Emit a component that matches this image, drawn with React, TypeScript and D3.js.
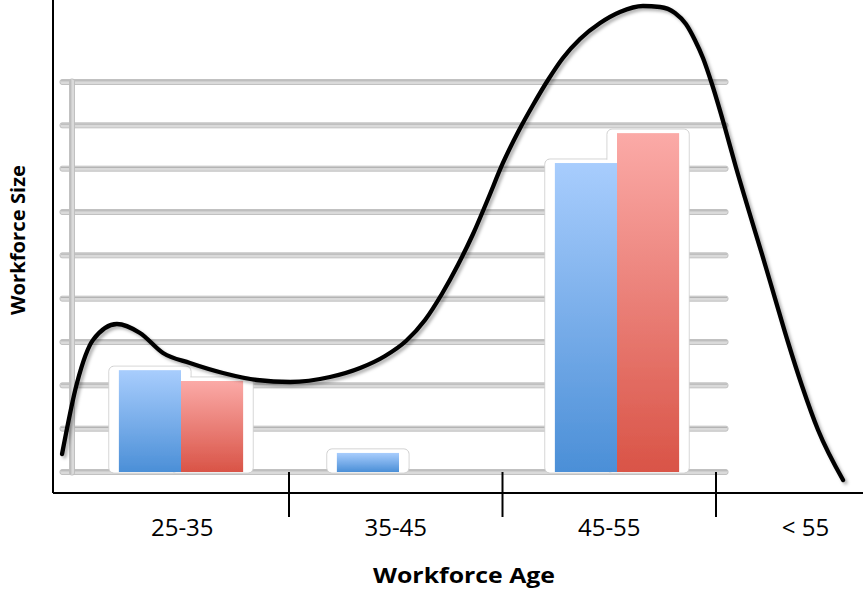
import React from "react";
import * as d3 from "d3";

// ---- data ----
const outerCategories = ["25-35", "35-45", "45-55", "< 55"];
const innerCategories = ["25-35", "35-45", "45-55"];
const seriesNames = ["blue", "red"];
const blueValues = [23.5, 4.4, 71.3];
const redValues = [21, 0, 78.2];
const yTicks = [0, 10, 20, 30, 40, 50, 60, 70, 80, 90];
// hand-drawn trend curve: x in category units, y in value units
const curveX = [-0.063, 0.007, 0.082, 0.194, 0.302, 0.41, 0.536, 0.691, 0.85, 1.005, 1.192, 1.333, 1.45, 1.548, 1.637, 1.716, 1.791, 1.862, 1.932, 2.002, 2.073, 2.143, 2.213, 2.283, 2.363, 2.457, 2.55, 2.658, 2.738, 2.808, 2.859, 2.901, 2.939, 2.981, 3.037, 3.093, 3.154, 3.215, 3.276, 3.337, 3.403, 3.478, 3.595];
const curveY = [4.15, 20.54, 30.46, 34.15, 32.08, 27.46, 25.15, 22.85, 21.23, 20.77, 21.92, 24.0, 26.77, 30.23, 35.08, 41.08, 47.77, 54.92, 63.0, 71.31, 78.46, 84.69, 90.46, 95.54, 99.92, 103.6, 106.15, 107.54, 107.31, 105.92, 103.38, 99.69, 95.54, 89.54, 80.31, 70.38, 60.23, 50.31, 40.15, 30.0, 19.85, 9.69, -1.85];
const xTitle = "Workforce Age";
const yTitle = "Workforce Size";

export default function App() {
  const W = 865, H = 590;
  const axL = 53, axB = 493, axR = 863;

  const outerX = d3.scaleBand<string>().domain(outerCategories).range([75.5, 929.5]);
  const curveScaleX = d3.scaleLinear().domain([0, 4]).range([75.5, 929.5]);
  const innerX = d3.scaleBand<string>().domain(innerCategories).range([72, 726]);
  const groupW = innerX.bandwidth() * 0.57;
  const sub = d3.scaleBand<string>().domain(seriesNames).range([0, groupW]);
  const y = d3.scaleLinear().domain([0, 90]).range([472, 82]);

  const bars: { x: number; w: number; top: number; s: string }[] = [];
  innerCategories.forEach((c, i) => {
    const g0 = (innerX(c) as number) + (innerX.bandwidth() - groupW) / 2;
    [blueValues[i], redValues[i]].forEach((v, j) => {
      if (v <= 0) return;
      bars.push({ x: g0 + (sub(seriesNames[j]) as number), w: sub.bandwidth(), top: y(v), s: seriesNames[j] });
    });
  });

  const line = d3
    .line<number>()
    .x((_, i) => curveScaleX(curveX[i]))
    .y((_, i) => y(curveY[i]))
    .curve(d3.curveMonotoneX);

  const tickBoundaries = outerCategories.slice(1).map((c) => outerX(c) as number);
  const labelX = (c: string) => {
    const x0 = outerX(c) as number;
    const x1 = Math.min(x0 + outerX.bandwidth(), axR + 32);
    return (x0 + x1) / 2;
  };

  const pad = 10;
  const font = "'Open Sans', 'Liberation Sans', sans-serif";

  return (
    <svg width={W} height={H} style={{ position: "absolute", left: 0, top: 0 }}>
      <defs>
        <linearGradient id="gBlue" x1="0" y1="0" x2="0" y2="1">
          <stop offset="0" stopColor="#a8cdfd" />
          <stop offset="1" stopColor="#4b8fd7" />
        </linearGradient>
        <linearGradient id="gRed" x1="0" y1="0" x2="0" y2="1">
          <stop offset="0" stopColor="#fbaaa7" />
          <stop offset="1" stopColor="#d95447" />
        </linearGradient>
        <filter id="shadow" x="-10%" y="-10%" width="120%" height="120%">
          <feDropShadow dx="2.5" dy="2.5" stdDeviation="1.6" floodColor="#000" floodOpacity="0.3" />
        </filter>
        <filter id="soft" x="-10%" y="-10%" width="120%" height="120%">
          <feGaussianBlur stdDeviation="0.6" />
        </filter>
      </defs>
      <rect width={W} height={H} fill="#fff" />

      {/* inner gridlines */}
      {yTicks.map((t) => (
        <g key={t}>
          <rect x={60} y={y(t) - 2.5} width={668} height={5} rx={2} fill="#dadada" stroke="#bcbcbc" strokeWidth={0.9} />
          <line x1={61} x2={727} y1={y(t) - 1.2} y2={y(t) - 1.2} stroke="#b2b2b2" strokeWidth={1} />
        </g>
      ))}
      {/* inner vertical axis */}
      <rect x={69.5} y={y(90) - 3} width={5} height={y(0) - y(90) + 6} rx={2} fill="#dadada" stroke="#bcbcbc" strokeWidth={0.9} />
      <line x1={70.8} x2={70.8} y1={y(90) - 2} y2={y(0) + 2} stroke="#b2b2b2" strokeWidth={1} />

      {/* bar halos: outline pass then fill pass */}
      {bars.map((b, i) => (
        <rect key={"hs" + i} x={b.x - pad} y={b.top - 4} width={b.w + 2 * pad} height={y(0) - b.top + 5} rx={5}
          fill="#fff" stroke="#cfcfcf" strokeWidth={1} />
      ))}
      {bars.map((b, i) => (
        <rect key={"hf" + i} x={b.x - pad + 0.7} y={b.top - 3.3} width={b.w + 2 * pad - 1.4} height={y(0) - b.top + 3.6} rx={4.5}
          fill="#fff" />
      ))}
      {/* bars */}
      {bars.map((b, i) => (
        <rect key={"b" + i} x={b.x} y={b.top} width={b.w} height={y(0) - b.top}
          fill={b.s === "blue" ? "url(#gBlue)" : "url(#gRed)"} filter="url(#soft)" />
      ))}

      {/* outer axes */}
      <line x1={axL} y1={0} x2={axL} y2={axB} stroke="#000" strokeWidth={2} />
      <line x1={axL} y1={axB} x2={axR} y2={axB} stroke="#000" strokeWidth={2} />
      {tickBoundaries.map((x, i) => (
        <line key={i} x1={x} y1={472} x2={x} y2={517} stroke="#000" strokeWidth={2} />
      ))}

      {/* trend curve */}
      <path d={line(curveX) || ""} fill="none" stroke="#000" strokeWidth={4.3} strokeLinecap="round"
        strokeLinejoin="round" filter="url(#shadow)" />

      {/* labels */}
      {outerCategories.map((c) => (
        <text key={c} x={labelX(c)} y={536} textAnchor="middle" fontFamily={font} fontSize={24} fill="#000">
          {c}
        </text>
      ))}
      <text x={464} y={583} textAnchor="middle" fontFamily={font} fontSize={21} fontWeight="bold"
        textLength={182} lengthAdjust="spacingAndGlyphs">
        {xTitle}
      </text>
      <text transform="translate(25,240) rotate(-90)" textAnchor="middle" fontFamily={font} fontSize={20}
        fontWeight="bold" textLength={150} lengthAdjust="spacingAndGlyphs">
        {yTitle}
      </text>
    </svg>
  );
}
